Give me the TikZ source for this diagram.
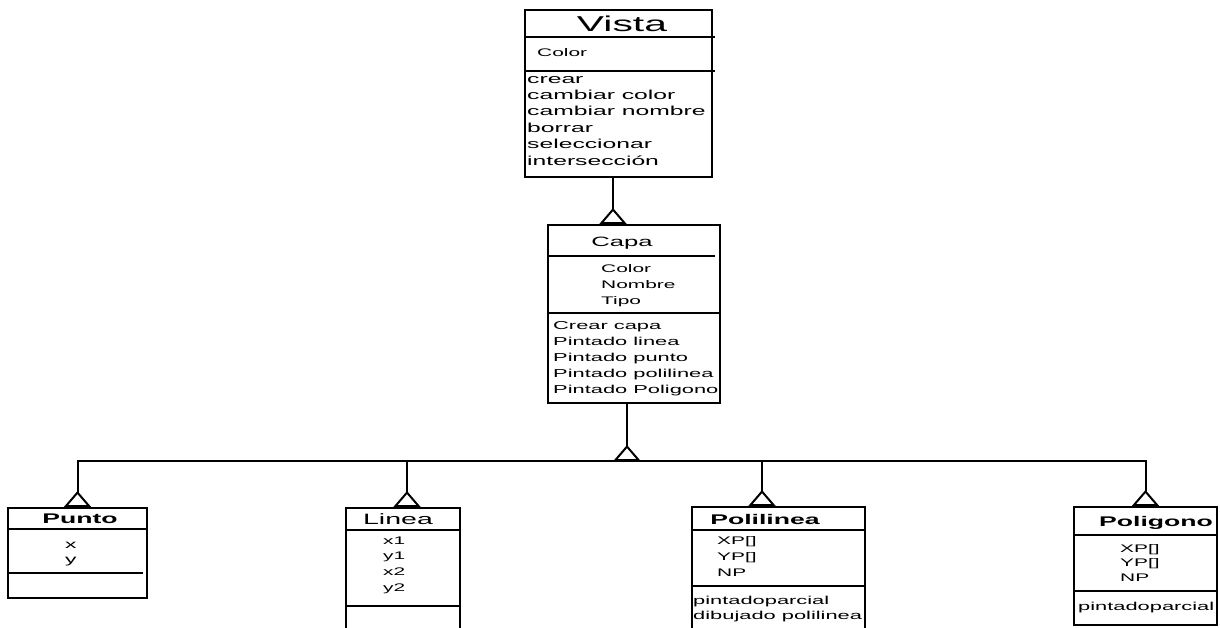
\documentclass[tikz,border=0pt]{standalone}
\usepackage{fontspec}
\setmainfont[FakeStretch=1.9]{Liberation Sans}
\usetikzlibrary{arrows.meta}

\tikzset{
  umlbox/.style={draw, line width=2pt, inner sep=0pt},
  umltitle/.style={inner sep=0pt, anchor=base, font=\fontsize{15}{15}\selectfont},
  umlattr/.style={inner sep=0pt, anchor=base west, font=\fontsize{11}{11}\selectfont},
  umlop/.style={inner sep=0pt, anchor=base west, font=\fontsize{11.5}{11.5}\selectfont},
  divider/.style={line width=2pt},
  inherit/.style={line width=2pt, -{Triangle[open, reversed, width=27pt, length=16pt]}},
}

\begin{document}
\begin{tikzpicture}[x=1pt, y=-1pt]
  \useasboundingbox (0,0) rectangle (1220,627);
  \clip (0,0) rectangle (1220,627);

  % Vista
  \node[umlbox, minimum width=187pt, minimum height=167pt] (vista) at (618.5,93.5) {};
  \node[umltitle, font=\fontsize{21.5}{21.5}\selectfont] (vistaT) at (622,31.5) {Vista};
  \draw[divider] (vista.west |- 0,37) -- (715,37);
  \node[umlattr] (vistaA) at (537,56.5) {Color};
  \draw[divider] (vista.west |- 0,71) -- (715,71);
  \foreach \lbl [count=\i] in {crear, cambiar color, cambiar nombre, borrar, seleccionar, intersección}
    \node[umlop, font=\fontsize{13}{13}\selectfont] (vistaO\i) at (527, 83+16.4*\i-16.4) {\lbl};

  % Capa
  \node[umlbox, minimum width=172pt, minimum height=178pt] (capa) at (634,314) {};
  \node[umltitle, font=\fontsize{13.5}{13.5}\selectfont] (capaT) at (622,246) {Capa};
  \draw[divider] (capa.west |- 0,256) -- (715,256);
  \foreach \lbl [count=\i] in {Color, Nombre, Tipo}
    \node[umlattr] (capaA\i) at (601, 272.5+16*\i-16) {\lbl};
  \draw[divider] (capa.west |- 0,313) -- (capa.east |- 0,313);
  \foreach \lbl [count=\i] in {Crear capa, Pintado linea, Pintado punto, Pintado polilinea, Pintado Poligono}
    \node[umlop] (capaO\i) at (553, 329.5+16*\i-16) {\lbl};

  % Punto
  \node[umlbox, minimum width=139pt, minimum height=90pt] (punto) at (77.5,553) {};
  \node[umltitle, font=\bfseries\fontsize{14}{14}\selectfont] (puntoT) at (80,523) {Punto};
  \draw[divider] (punto.west |- 0,529) -- (punto.east |- 0,529);
  \foreach \lbl [count=\i] in {x, y}
    \node[umlattr, font=\fontsize{12}{12}\selectfont] (puntoA\i) at (65, 548+15*\i-15) {\lbl};
  \draw[divider] (punto.west |- 0,573) -- (143,573);

  % Linea
  \node[umlbox, minimum width=114pt, minimum height=140pt] (linea) at (403,578) {};
  \node[umltitle] (lineaT) at (398,524) {Linea};
  \draw[divider] (linea.west |- 0,530) -- (linea.east |- 0,530);
  \foreach \lbl [count=\i] in {x1, y1, x2, y2}
    \node[umlattr] (lineaA\i) at (383, 544+15.7*\i-15.7) {\lbl};
  \draw[divider] (linea.west |- 0,606) -- (linea.east |- 0,606);

  % Polilinea
  \node[umlbox, minimum width=173pt, minimum height=140pt] (polilinea) at (778.5,577) {};
  \node[umltitle, font=\bfseries\fontsize{14}{14}\selectfont] (polilineaT) at (765,524) {Polilinea};
  \draw[divider] (polilinea.west |- 0,530) -- (polilinea.east |- 0,530);
  \foreach \lbl [count=\i] in {XP[], YP[], NP}
    \node[umlattr] (polilineaA\i) at (717, 544.5+16*\i-16) {\lbl};
  \draw[divider] (polilinea.west |- 0,586) -- (polilinea.east |- 0,586);
  \foreach \lbl [count=\i] in {pintadoparcial, dibujado polilinea}
    \node[umlop] (polilineaO\i) at (693, 604.5+15*\i-15) {\lbl};

  % Poligono
  \node[umlbox, minimum width=143pt, minimum height=118pt] (poligono) at (1145.5,566) {};
  \node[umltitle, font=\bfseries\fontsize{14}{14}\selectfont] (poligonoT) at (1156,526) {Poligono};
  \draw[divider] (poligono.west |- 0,535) -- (poligono.east |- 0,535);
  \foreach \lbl [count=\i] in {XP[], YP[], NP}
    \node[umlattr] (poligonoA\i) at (1120, 552+14.7*\i-14.7) {\lbl};
  \draw[divider] (poligono.west |- 0,591) -- (poligono.east |- 0,591);
  \node[umlop] (poligonoO) at (1078,610) {pintadoparcial};

  % herencia
  \draw[inherit] ([xshift=-5.5pt]vista.south) -- ([xshift=-21pt]capa.north);
  \coordinate (bus) at (627,461);
  \draw[inherit] ([xshift=-7pt]capa.south) -- (bus);
  \draw[divider, line cap=rect] (punto.north |- bus) -- (poligono.north |- bus);
  \draw[inherit] (punto.north |- bus) -- (punto.north);
  \draw[inherit] ([xshift=4pt]linea.north |- bus) -- ([xshift=4pt]linea.north);
  \draw[inherit] ([xshift=-16.5pt]polilinea.north |- bus) -- ([xshift=-16.5pt]polilinea.north);
  \draw[inherit] (poligono.north |- bus) -- (poligono.north);
\end{tikzpicture}
\end{document}
